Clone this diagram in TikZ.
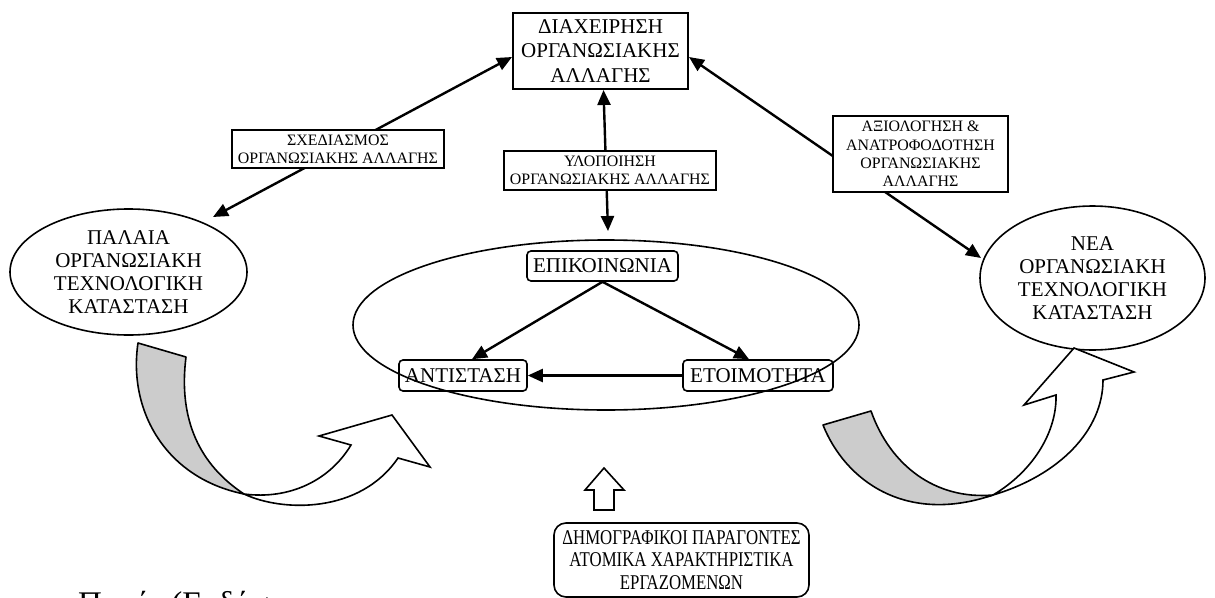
\documentclass[tikz,border=0pt]{standalone}
\usepackage{fontspec}
\setmainfont{Liberation Serif}
\newfontfamily\condfont[FakeStretch=0.80]{Liberation Serif}
\usetikzlibrary{arrows.meta,calc,shapes.geometric}
\definecolor{bandgray}{RGB}{204,204,204}
\tikzset{
  tri/.tip={Triangle[length=15pt,width=13pt]},
  twoway/.style={line width=2.4pt, tri-tri},
  oneway/.style={line width=2.4pt, -tri},
  mainbox/.style={draw, line width=2pt, align=center, inner sep=0pt,
    font=\fontsize{21}{24.5}\selectfont},
  labelbox/.style={draw, fill=white, line width=1.8pt, align=center, inner sep=0pt,
    font=\fontsize{15.9}{18.2}\selectfont},
  stateell/.style={draw, ellipse, line width=1.6pt, align=center, inner sep=0pt,
    font=\fontsize{21}{22.8}\selectfont},
  factorbox/.style={draw, rounded corners=4pt, line width=1.6pt, inner sep=0pt,
    font=\fontsize{21}{24}\selectfont},
  bandgrey/.style={draw, line width=1.6pt, fill=bandgray, line join=round},
  bandwhite/.style={draw, line width=1.6pt, fill=white, line join=miter},
}
\begin{document}
\begin{tikzpicture}[x=1pt,y=-1pt]
\useasboundingbox (0,0) rectangle (1215,597);
\clip (0,0) rectangle (1215,597);

% main nodes
\node[mainbox, minimum width=175pt, minimum height=76pt] (T) at (600.5,51)
  {ΔΙΑΧΕΙΡΗΣΗ\\ΟΡΓΑΝΩΣΙΑΚΗΣ\\ΑΛΛΑΓΗΣ};
\node[stateell, minimum width=237pt, minimum height=126pt] (P) at (128.5,272)
  {ΠΑΛΑΙΑ\\ΟΡΓΑΝΩΣΙΑΚΗ\\ΤΕΧΝΟΛΟΓΙΚΗ\\ΚΑΤΑΣΤΑΣΗ};
\node[stateell, minimum width=225pt, minimum height=144pt] (R) at (1092.5,278)
  {ΝΕΑ\\ΟΡΓΑΝΩΣΙΑΚΗ\\ΤΕΧΝΟΛΟΓΙΚΗ\\ΚΑΤΑΣΤΑΣΗ};
\node[draw, ellipse, line width=1.6pt, minimum width=506pt, minimum height=170pt] (C) at (606,325) {};

\node[factorbox, minimum width=151pt, minimum height=30pt] (E1) at (602.5,266) {ΕΠΙΚΟΙΝΩΝΙΑ};
\node[factorbox, minimum width=128pt, minimum height=31pt] (E2) at (463,375.5) {ΑΝΤΙΣΤΑΣΗ};
\node[factorbox, minimum width=150pt, minimum height=31pt] (E3) at (758,375.5) {ΕΤΟΙΜΟΤΗΤΑ};

% connector end points on the ellipses
\coordinate (pe) at (213,217);
\coordinate (re) at (981,258);
\coordinate (ce) at (608,231);

% connectors
\draw[twoway] (pe) -- ($(T.west)+(0,6)$);
\draw[twoway] (re) -- ($(T.east)+(0,6)$);
\draw[twoway] (ce) -- ($(T.south)+(3,0)$);
\draw[oneway] (E1.south) -- ($(E2.north)+(9,0)$);
\draw[oneway] (E1.south) -- ($(E3.north)+(-9,0)$);
\draw[oneway] (E3.west) -- (E2.east);

% labels on connectors
\node[labelbox, minimum width=212pt, minimum height=38pt] (L1) at (338,149)
  {ΣΧΕΔΙΑΣΜΟΣ\\ΟΡΓΑΝΩΣΙΑΚΗΣ ΑΛΛΑΓΗΣ};
\node[labelbox, minimum width=212pt, minimum height=39pt] (L2) at (610,170.5)
  {ΥΛΟΠΟΙΗΣΗ\\ΟΡΓΑΝΩΣΙΑΚΗΣ ΑΛΛΑΓΗΣ};
\node[labelbox, minimum width=175pt, minimum height=76pt] (L3) at (920.5,154)
  {ΑΞΙΟΛΟΓΗΣΗ \&\\ΑΝΑΤΡΟΦΟΔΟΤΗΣΗ\\ΟΡΓΑΝΩΣΙΑΚΗΣ\\ΑΛΛΑΓΗΣ};

% left curved arrow
\draw[bandwhite] (244,494) .. controls (282,512) and (360,514) .. (398,458)
  -- (430,467) -- (392,415) -- (319,436) -- (351,445)
  .. controls (330,480) and (290,500) .. (244,494) -- cycle;
\draw[bandgrey] (138,343) -- (186,357)
  .. controls (178,420) and (200,465) .. (244,494)
  .. controls (165,478) and (128,410) .. (138,343) -- cycle;

% right curved arrow
\draw[bandwhite] (993,495) .. controls (1060,475) and (1103,430) .. (1103,380)
  -- (1134,372) -- (1074,348) -- (1024,405) -- (1056,395)
  .. controls (1057,430) and (1035,470) .. (993,495) -- cycle;
\draw[bandgrey] (823,425) -- (871,411)
  .. controls (890,465) and (935,500) .. (993,495)
  .. controls (905,525) and (845,480) .. (823,425) -- cycle;

% hollow up arrow
\draw[line width=1.6pt, fill=white, line join=miter] (594,510) -- (594,490) -- (585,490)
  -- (604,468) -- (624,490) -- (614,490) -- (614,510) -- cycle;

% demographic box
\node[draw, rounded corners=12pt, line width=1.6pt, align=center, inner sep=0pt,
  minimum width=255pt, minimum height=74pt,
  font=\condfont\fontsize{21}{22.5}\selectfont] (B) at (681.5,560)
  {ΔΗΜΟΓΡΑΦΙΚΟΙ ΠΑΡΑΓΟΝΤΕΣ\\ΑΤΟΜΙΚΑ ΧΑΡΑΚΤΗΡΙΣΤΙΚΑ\\ΕΡΓΑΖΟΜΕΝΩΝ};

% source line (cut by the lower edge, as in the reference)
\node[anchor=base west, inner sep=0pt, font=\fontsize{33}{36}\selectfont] (S) at (78,614)
  {Πηγή: (Εκδόσεις};
\end{tikzpicture}
\end{document}
